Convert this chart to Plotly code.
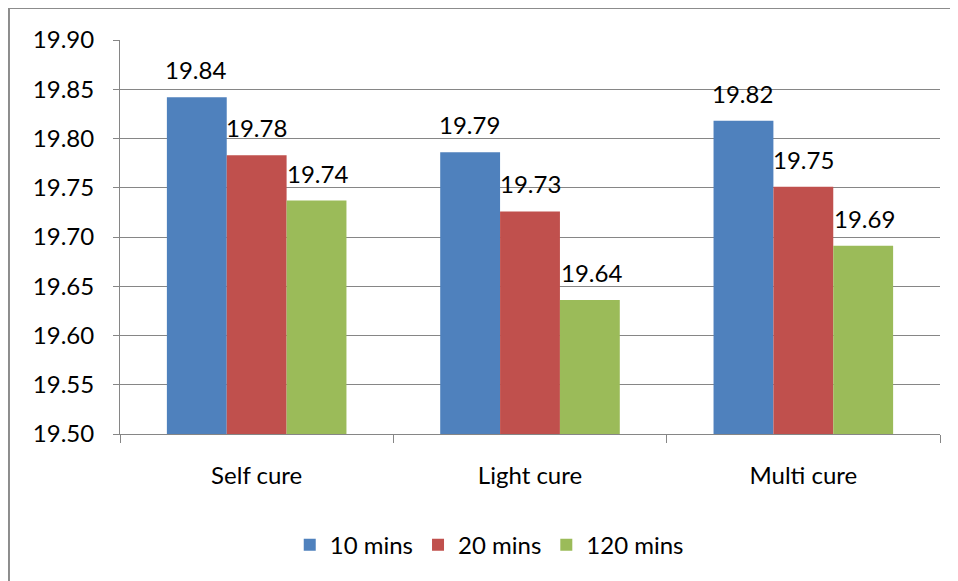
import plotly.graph_objects as go

categories = ["Self cure", "Light cure", "Multi cure"]
series_names = ["10 mins", "20 mins", "120 mins"]
values_10 = [19.842, 19.786, 19.818]
values_20 = [19.783, 19.726, 19.751]
values_120 = [19.737, 19.636, 19.691]
y_ticks = [19.50, 19.55, 19.60, 19.65, 19.70, 19.75, 19.80, 19.85, 19.90]

colors = ["#4F81BD", "#C0504D", "#9BBB59"]
all_values = [values_10, values_20, values_120]
FONT = "Lato, Open Sans, sans-serif"
FS = 24

fig = go.Figure()
for name, vals, col in zip(series_names, all_values, colors):
    fig.add_trace(go.Bar(x=categories, y=vals, name=name, marker=dict(color=col, line=dict(width=0))))

# data labels
bar_px = 61
for i, vals in enumerate(all_values):
    for c, v in zip(categories, vals):
        fig.add_annotation(x=c, y=v, text=f"{v:.2f}", showarrow=False, xref="x", yref="y",
                           xshift=(i - 1) * bar_px, yanchor="bottom", yshift=11,
                           font=dict(family=FONT, size=FS, color="#000000"))

# outer chart border
fig.add_shape(type="rect", xref="paper", yref="paper", x0=-0.1354, x1=1.06, y0=-0.45, y1=1.081,
              line=dict(color="#8c8c8c", width=2), fillcolor="rgba(0,0,0,0)", layer="below")

fig.update_layout(
    width=958, height=581,
    margin=dict(l=112, r=26, t=32, b=155, autoexpand=False),
    paper_bgcolor="white", plot_bgcolor="white",
    barmode="group", bargap=0.343, bargroupgap=0,
    font=dict(family=FONT, size=FS, color="#000000"),
    showlegend=True,
    legend=dict(orientation="h", x=0.207, xanchor="left", y=-0.282, yanchor="middle",
                font=dict(family=FONT, size=FS), itemwidth=30, traceorder="normal"),
)
fig.update_yaxes(range=[19.5, 19.9], tickvals=y_ticks, tickformat=".2f",
                 showgrid=True, gridcolor="#868686", gridwidth=1,
                 showline=True, linecolor="#868686", linewidth=1,
                 ticks="outside", ticklen=6, tickcolor="#868686",
                 ticklabelstandoff=14, zeroline=False,
                 tickfont=dict(family=FONT, size=FS))
fig.update_xaxes(showline=True, linecolor="#868686", linewidth=1,
                 ticks="outside", ticklen=8, tickcolor="#868686", tickson="boundaries",
                 ticklabelstandoff=20, tickfont=dict(family=FONT, size=FS), mirror=False)

fig.write_html("out.html")
